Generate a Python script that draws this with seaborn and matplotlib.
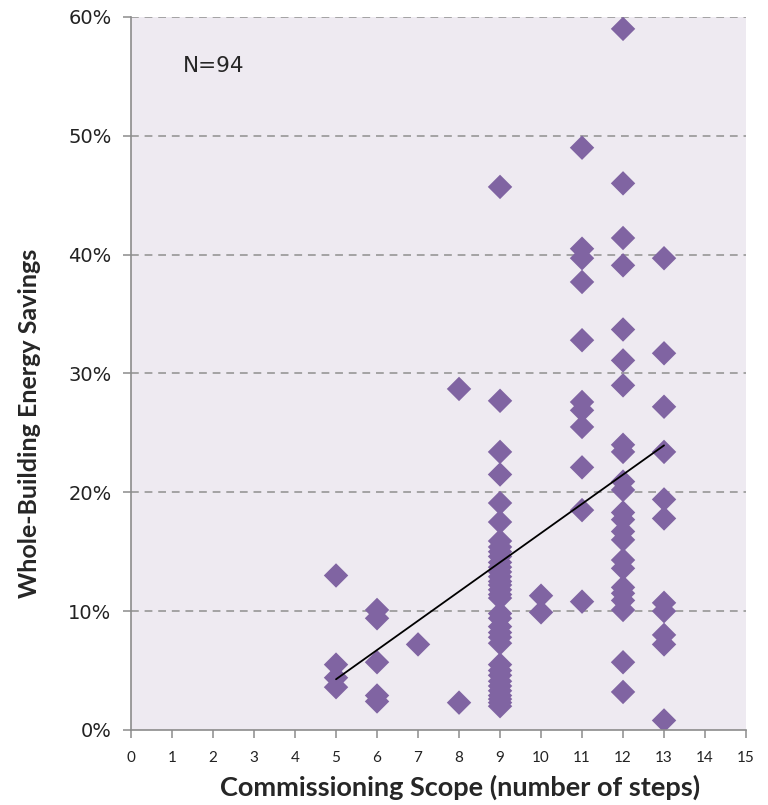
#!/usr/bin/env python3
"""Commissioning scope vs whole-building energy savings scatter."""
import matplotlib

matplotlib.use("Agg")
import matplotlib.pyplot as plt  # noqa: E402
import pandas as pd  # noqa: E402
import seaborn as sns  # noqa: E402
from matplotlib.ticker import PercentFormatter  # noqa: E402

# savings (%), one list per commissioning scope
scope_5 = [13.0, 5.5, 4.4, 3.6]
scope_6 = [10.1, 9.4, 5.7, 2.9, 2.4]
scope_7 = [7.2]
scope_8 = [28.7, 2.3]
scope_9 = [45.7, 27.7, 23.4, 21.5, 19.1, 17.5, 15.9, 15.4, 15.0, 14.6, 14.1,
           13.7, 13.3, 12.9, 12.5, 12.2, 11.8, 11.4, 11.1, 9.8, 9.4, 8.7, 8.2,
           7.8, 7.3, 5.5, 5.0, 4.6, 4.1, 3.7, 3.3, 2.9, 2.6, 2.3, 2.0]
scope_10 = [11.3, 9.9]
scope_11 = [49.0, 40.5, 39.7, 37.7, 32.8, 27.6, 26.9, 25.5, 22.1, 18.5, 10.8]
scope_12 = [59.0, 46.0, 41.4, 39.1, 33.7, 31.1, 29.0, 24.0, 23.4, 20.9, 20.2,
            18.3, 17.7, 16.7, 16.0, 14.3, 13.6, 12.0, 11.5, 10.9, 10.1, 5.7, 3.2]
scope_13 = [39.7, 31.7, 27.2, 23.4, 19.4, 17.8, 10.7, 10.0, 8.0, 7.2, 0.8]

groups = {5: scope_5, 6: scope_6, 7: scope_7, 8: scope_8, 9: scope_9,
          10: scope_10, 11: scope_11, 12: scope_12, 13: scope_13}
x_ticks = list(range(0, 16))
y_ticks = [0, 10, 20, 30, 40, 50, 60]

rows = [(k, v / 100) for k, vals in groups.items() for v in vals]
df = pd.DataFrame(rows, columns=["scope", "savings"])

PURPLE = "#8064A2"
BG = "#EEEAF1"

sns.set_theme(style="white")
fig = plt.figure(figsize=(7.68, 8.05), dpi=100)
ax = fig.add_axes([0.1706, 0.0932, 0.8008, 0.8857])
ax.set_facecolor(BG)

for y in y_ticks[1:]:
    ax.axhline(y / 100, color="#A3A3A3", lw=1.4, ls=(0, (4, 3)), zorder=0)

sns.scatterplot(data=df, x="scope", y="savings", marker="D", s=155,
                color=PURPLE, edgecolor="none", ax=ax, zorder=2)
sns.regplot(data=df, x="scope", y="savings", scatter=False, ci=None,
            truncate=True, color="black", line_kws={"lw": 1.3, "zorder": 3},
            ax=ax)

ax.set_xlim(0, 15)
ax.set_ylim(0, 0.6)
ax.set_xticks(x_ticks)
ax.set_yticks([y / 100 for y in y_ticks])
ax.yaxis.set_major_formatter(PercentFormatter(1.0, decimals=0))

for side in ["top", "right"]:
    ax.spines[side].set_visible(False)
for side in ["left", "bottom"]:
    ax.spines[side].set_color("#8C8C8C")
    ax.spines[side].set_linewidth(1.2)

ax.tick_params(axis="both", direction="out", length=6, width=1.1,
               color="#8C8C8C", bottom=True, left=True)
ax.tick_params(axis="y", labelsize=14, pad=8, labelcolor="#222222")
ax.tick_params(axis="x", labelsize=11, pad=9, labelcolor="#222222")
for lab in ax.get_xticklabels():
    lab.set_family("Lato")

ax.set_xlabel("Commissioning Scope (number of steps)", fontsize=19.5,
              fontweight="bold", family="Lato")
ax.set_ylabel("Whole-Building Energy Savings", fontsize=18,
              fontweight="bold", family="Lato")
ax.xaxis.set_label_coords(0.535, -0.062)
ax.yaxis.set_label_coords(-0.146, 0.43)

ax.text(1.27, 0.559, f"N={len(df)}", fontsize=15.5, va="center", ha="left")

fig.savefig("out.png", dpi=100)
plt.close(fig)
